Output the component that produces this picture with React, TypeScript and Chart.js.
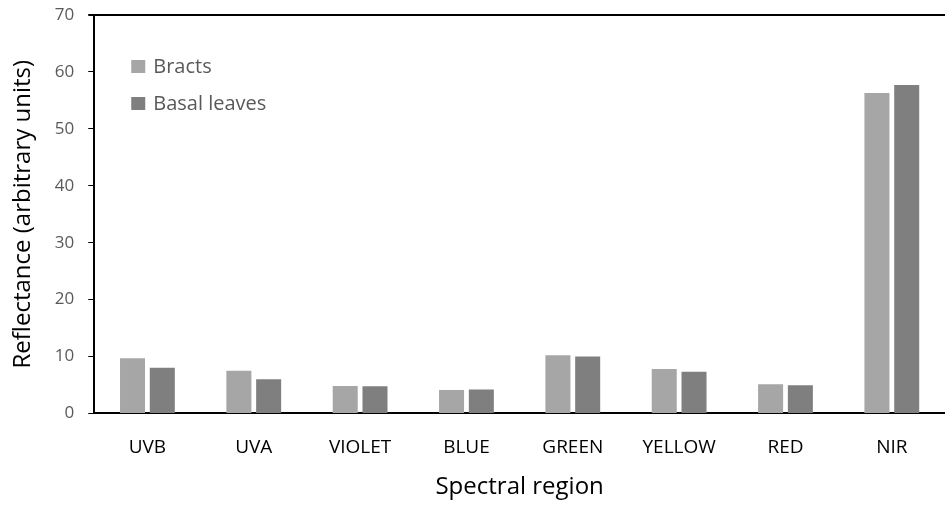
import React, { useEffect, useRef } from "react";
import { Chart, registerables } from "chart.js";

Chart.register(...registerables);

const categories = ["UVB", "UVA", "VIOLET", "BLUE", "GREEN", "YELLOW", "RED", "NIR"];
const bracts = [9.7, 7.5, 4.8, 4.1, 10.2, 7.8, 5.1, 56.3];
const basalLeaves = [8.0, 6.0, 4.75, 4.2, 10.0, 7.3, 4.95, 57.7];
const seriesNames = ["Bracts", "Basal leaves"];
const seriesColors = ["#a6a6a6", "#7f7f7f"];

const FONT = "'Open Sans', 'Noto Sans', sans-serif";

const insideLegend = {
  id: "insideLegend",
  afterDraw(chart: any) {
    const ctx = chart.ctx;
    const area = chart.chartArea;
    ctx.save();
    ctx.font = `20px ${FONT}`;
    ctx.textBaseline = "middle";
    chart.data.datasets.forEach((ds: any, i: number) => {
      const y = area.top + 52 + i * 37;
      const x = area.left + 37;
      ctx.fillStyle = ds.backgroundColor;
      ctx.fillRect(x, y - 7, 14, 13);
      ctx.fillStyle = "#595959";
      ctx.fillText(ds.label, x + 22, y);
    });
    ctx.restore();
  },
};

export default function App() {
  const ref = useRef<HTMLCanvasElement>(null);
  useEffect(() => {
    document.body.style.margin = "0";
    const chart = new Chart(ref.current!, {
      type: "bar",
      data: {
        labels: categories,
        datasets: [
          { label: seriesNames[0], data: bracts, backgroundColor: seriesColors[0] },
          { label: seriesNames[1], data: basalLeaves, backgroundColor: seriesColors[1] },
        ],
      },
      options: {
        animation: false,
        responsive: false,
        maintainAspectRatio: false,
        layout: { padding: { top: 15, right: 0, bottom: 16, left: 9 } },
        datasets: { bar: { categoryPercentage: 0.56, barPercentage: 0.84 } } as any,
        plugins: {
          legend: { display: false },
          tooltip: { enabled: false },
        },
        scales: {
          x: {
            grid: { display: false },
            border: { display: true, color: "#000", width: 2 },
            ticks: { color: "#000", font: { family: FONT, size: 19 }, padding: 15 },
            title: {
              display: true,
              text: "Spectral region",
              color: "#000",
              font: { family: FONT, size: 24 },
              padding: { top: -1, bottom: 0 },
            },
          },
          y: {
            min: 0,
            max: 70,
            afterFit: (scale: any) => {
              scale.paddingTop = 0;
            },
            ticks: { stepSize: 10, color: "#595959", font: { family: FONT, size: 17 }, padding: 14 },
            grid: {
              drawOnChartArea: true,
              color: (c: any) => (c.tick && c.tick.value === 70 ? "#000" : "rgba(0,0,0,0)"),
              lineWidth: (c: any) => (c.tick && c.tick.value === 70 ? 2 : 1),
              tickColor: "#000",
              tickLength: 6,
            },
            border: { display: true, color: "#000", width: 2 },
            title: {
              display: true,
              text: "Reflectance (arbitrary units)",
              color: "#000",
              font: { family: FONT, size: 24 },
              padding: { top: 0, bottom: 3 },
            },
          },
        },
      },
      plugins: [insideLegend],
    });
    return () => chart.destroy();
  }, []);
  return (
    <div style={{ position: "relative", width: 945, height: 518 }}>
      <canvas ref={ref} width={945} height={518} style={{ display: "block" }} />
    </div>
  );
}
